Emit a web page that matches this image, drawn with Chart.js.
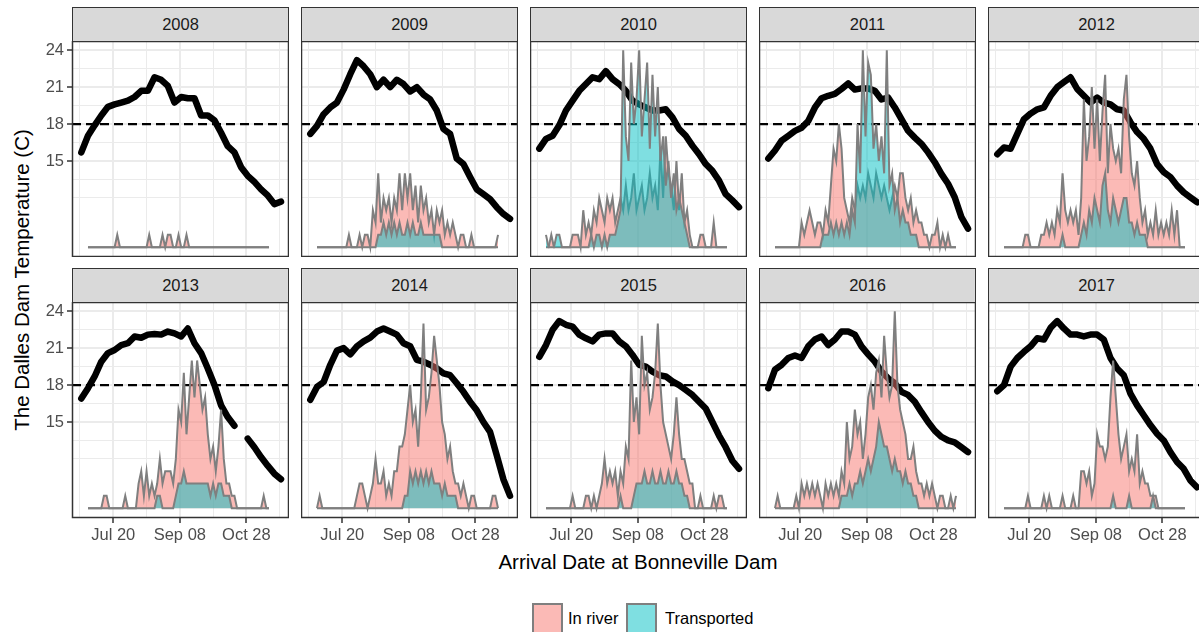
<!DOCTYPE html>
<html>
<head>
<meta charset="utf-8">
<script src="https://cdn.jsdelivr.net/npm/chart.js@4.4.1/dist/chart.umd.min.js"></script>
<style>
  body { margin: 0; background: #fff; font-family: "Liberation Sans", Arial, sans-serif; }
  #wrap { position: relative; width: 1199px; height: 632px; overflow: hidden; background: #fff; }
  canvas { position: absolute; }
  .strip { position: absolute; box-sizing: border-box; background: #d9d9d9; border: 1.5px solid #333; color: #1a1a1a; font-size: 16.5px; display: flex; align-items: center; justify-content: center; }
  .title { position: absolute; color: #000; font-size: 20.5px; white-space: nowrap; }
  .key { position: absolute; box-sizing: border-box; width: 31px; height: 31px; border: 2px solid #7f7f7f; }
  .keylabel { position: absolute; font-size: 16.5px; color: #000; line-height: 20px; }
</style>
</head>
<body>
<div id="wrap">
  <div class="title" id="ytitle" style="left:22px;top:280px;transform:translate(-50%,-50%) rotate(-90deg)">The Dalles Dam Temperature (C)</div>
  <div class="title" style="left:638px;top:562px;transform:translate(-50%,-50%)">Arrival Date at Bonneville Dam</div>
  <div class="key" style="left:532px;top:603px;background:rgba(248,118,109,0.5)"></div>
  <div class="keylabel" style="left:568px;top:608px">In river</div>
  <div class="key" style="left:626px;top:603px;background:rgba(0,191,196,0.5)"></div>
  <div class="keylabel" style="left:665px;top:608px">Transported</div>
</div>
<script>
// facets
const years = [2008, 2009, 2010, 2011, 2012, 2013, 2014, 2015, 2016, 2017];

// x axis = day of year
const xTickDays = [201, 251, 301];
const xTickLabels = ['Jul 20', 'Sep 08', 'Oct 28'];
const xMinorDays = [176, 226, 276, 326];
const yTicks = [15, 18, 21, 24];
const yMinor = [12, 13.5, 16.5, 19.5, 22.5];
const threshold = 18;

// temperature every 5 days starting day 177
const tempStart = 177, tempStep = 5;
const temp2008 = [15.7, 17.05, 17.9, 18.7, 19.4, 19.6, 19.75, 19.9, 20.2, 20.7, 20.7, 21.8, 21.6, 21.1, 19.75, 20.2, 20.1, 20.1, 18.7, 18.7, 18.3, 17.3, 16.2, 15.7, 14.5, 13.8, 13.3, 12.7, 12.2, 11.5, 11.7];
const temp2009 = [17.2, 17.85, 18.8, 19.35, 19.75, 20.8, 22.05, 23.2, 22.7, 22.05, 21.0, 21.6, 21.0, 21.6, 21.25, 20.65, 21.0, 20.4, 20.0, 19.1, 17.6, 17.2, 15.2, 14.75, 13.7, 12.7, 12.3, 11.9, 11.25, 10.7, 10.3];
const temp2010 = [16.0, 16.8, 17.05, 17.9, 19.1, 19.9, 20.7, 21.25, 21.8, 21.65, 22.3, 21.65, 21.25, 20.7, 19.9, 19.6, 19.35, 19.1, 19.1, 19.2, 18.55, 17.6, 17.05, 16.25, 15.55, 14.75, 14.2, 13.4, 12.3, 11.8, 11.25];
const temp2011 = [15.2, 15.85, 16.65, 17.05, 17.45, 17.7, 18.25, 19.35, 20.1, 20.3, 20.45, 20.85, 21.3, 20.8, 20.9, 20.9, 20.7, 20.0, 20.15, 19.35, 18.4, 17.45, 16.9, 16.4, 15.7, 14.9, 13.95, 13.15, 12.05, 10.45, 9.5];
const temp2012 = [15.55, 16.1, 16.0, 17.2, 18.4, 18.85, 19.2, 19.35, 20.3, 21.0, 21.4, 21.8, 20.85, 20.3, 19.75, 20.15, 19.75, 19.6, 19.2, 19.1, 18.15, 17.35, 16.8, 16.0, 14.75, 14.1, 13.7, 13.0, 12.45, 12.05, 11.65];
const temp2013 = [16.9, 17.75, 18.7, 19.9, 20.6, 20.85, 21.25, 21.4, 21.95, 21.85, 22.1, 22.15, 22.1, 22.35, 22.2, 21.95, 22.6, 21.4, 20.6, 19.35, 18.0, 16.35, 15.4, 14.7, null, 13.65, 12.95, 12.15, 11.45, 10.8, 10.35];
const temp2014 = [16.8, 17.85, 18.25, 19.65, 20.8, 21.0, 20.5, 21.15, 21.55, 21.85, 22.35, 22.6, 22.35, 22.1, 21.4, 21.15, 20.05, 19.9, 19.65, 19.35, 18.95, 18.8, 18.15, 17.45, 16.65, 15.95, 15.0, 14.2, 12.3, 10.35, 9.0];
const temp2015 = [20.3, 21.25, 22.5, 23.2, 22.9, 22.75, 22.1, 21.8, 21.55, 22.1, 22.2, 22.2, 21.55, 21.15, 20.45, 19.65, 19.5, 19.1, 18.8, 18.7, 18.3, 18.0, 17.6, 17.2, 16.65, 16.1, 15.0, 13.9, 12.95, 11.85, 11.2];
const temp2016 = [17.75, 19.25, 19.65, 20.2, 20.4, 20.2, 21.15, 21.7, 21.95, 21.25, 21.7, 22.35, 22.35, 22.1, 21.15, 20.5, 19.9, 19.1, 18.55, 18.15, 17.45, 17.2, 16.65, 15.8, 15.0, 14.3, 13.8, 13.5, 13.35, 12.95, 12.55];
const temp2017 = [17.5, 18.0, 19.5, 20.2, 20.7, 21.15, 21.8, 21.7, 22.65, 23.2, 22.6, 22.1, 22.1, 21.95, 22.1, 22.1, 21.7, 20.2, 19.35, 18.8, 17.3, 16.35, 15.55, 14.75, 14.05, 13.5, 12.55, 11.75, 11.2, 10.25, 9.7];

// fish counts every 2 days starting day 182, drawn on top of y = 8
const countStart = 182, countStep = 2, countBase = 8;
const inRiver2008 = [0,0,0,0,0,0,0,0,0,0, 0,1,0,0,0,0,0,0,0,0, 0,0,0,1,0,0,0,0,1,0, 1,1,0,0,1,0,0,1,0,0, 0,0,0,0,0,0,0,0,0,0, 0,0,0,0,0,0,0,0,0,0, 0,0,0,0,0,0,0,0,0];
const transported2008 = [0,0,0,0,0,0,0,0,0,0, 0,0,0,0,0,0,0,0,0,0, 0,0,0,0,0,0,0,0,0,0, 0,0,0,0,0,0,0,0,0,0, 0,0,0,0,0,0,0,0,0,0, 0,0,0,0,0,0,0,0,0,0, 0,0,0,0,0,0,0,0,0];
const inRiver2009 = [0,0,0,0,0,0,0,0,0,0, 0,0,1,0,0,0,1,0,1,1, 0,3,2,6,2,4,3,4,2,4, 3,6,3,6,4,6,3,5,2,5, 3,4,2,3,1,3,2,3,1,2, 1,2,1,0,1,1,0,0,1,0, 0,0,0,0,0,0,0,0,1];
const transported2009 = [0,0,0,0,0,0,0,0,0,0, 0,0,0,0,0,0,0,0,0,0, 0,0,0,1,1,2,1,2,1,2, 1,2,1,1,2,1,2,1,1,2, 1,1,1,1,1,1,1,0,0,0, 0,0,0,0,0,0,0,0,0,0, 0,0,0,0,0,0,0,0,0];
const inRiver2010 = [0,0,1,0,0,0,0,0,0,0, 1,1,1,0,3,1,2,1,3,2, 4,3,2,4,3,4,2,3,4,3, 5,3,4,6,3,4,5,3,4,6, 4,5,3,8,4,9,6,5,3,7, 3,6,2,3,1,0,0,0,1,1, 0,0,0,2,0,0,0,0,0];
const transported2010 = [1,0,0,0,1,1,0,0,0,0, 0,0,0,0,0,0,0,1,0,1, 1,0,1,0,1,1,1,2,3,16, 9,7,15,10,12,16,9,12,15,8, 14,9,13,7,9,5,7,4,6,3, 4,3,2,1,0,0,0,0,0,0, 0,0,0,0,0,0,0,0,0];
const inRiver2011 = [0,0,0,0,0,0,0,0,0,0, 2,1,2,3,2,1,2,2,1,3, 2,5,8,7,10,8,4,3,2,4, 3,5,4,5,4,6,5,4,6,5, 4,5,4,3,4,5,4,6,6,4, 3,4,2,3,2,2,1,1,0,1, 1,2,0,1,0,1,0,0,0];
const transported2011 = [0,0,0,0,0,0,0,0,0,0, 0,0,0,0,0,0,0,0,1,1, 1,2,1,2,1,2,1,2,1,3, 2,10,6,16,9,15,14,8,10,7, 9,6,16,5,6,3,4,2,3,2, 2,1,1,1,0,0,0,0,0,0, 0,0,0,0,0,0,0,0,0];
const inRiver2012 = [0,0,0,0,0,0,0,0,1,1, 0,0,0,0,1,1,2,1,2,1, 3,2,6,3,2,3,2,3,1,4, 12,7,9,13,8,12,7,11,14,6, 10,8,7,8,6,12,14,9,6,5, 7,4,2,3,1,2,1,3,1,2, 1,2,1,3,1,3,0,0,0];
const transported2012 = [0,0,0,0,0,0,0,0,0,0, 0,0,0,0,0,0,0,0,0,0, 0,0,1,0,0,0,0,0,0,1, 2,1,3,2,4,3,2,5,6,3, 2,4,3,2,3,4,4,2,2,1, 2,1,1,1,0,0,0,0,0,0, 0,0,0,0,0,0,0,0,0];
const inRiver2013 = [0,0,0,0,0,0,1,1,0,0, 0,0,0,0,1,0,0,0,0,2, 3,1,3,1,2,1,2,4,2,3, 3,3,2,4,8,7,11,6,9,12, 9,12,10,8,9,6,4,5,3,5, 8,4,2,2,1,1,0,0,0,0, 0,0,0,0,0,0,1,0,0];
const transported2013 = [0,0,0,0,0,0,0,0,0,0, 0,0,0,0,0,0,0,0,0,0, 0,0,0,0,0,0,1,1,0,0, 0,0,0,1,2,2,3,2,2,2, 2,2,2,2,2,2,1,2,1,2, 2,1,1,1,0,0,0,0,0,0, 0,0,0,0,0,0,0,0,0];
const inRiver2014 = [0,1,0,0,0,0,0,0,0,0, 0,0,0,0,0,1,2,2,1,0, 1,2,4,2,2,3,1,2,1,3, 3,5,5,6,8,10,7,8,5,9, 15,8,9,11,14,12,10,7,6,4, 5,3,2,2,1,2,1,0,1,1, 0,0,0,0,0,0,1,1,0];
const transported2014 = [0,0,0,0,0,0,0,0,0,0, 0,0,0,0,0,0,0,0,0,0, 0,0,0,0,0,0,0,0,0,0, 0,0,0,1,1,3,2,3,2,3, 2,3,2,3,2,2,2,1,2,1, 1,1,1,0,0,0,0,0,0,0, 0,0,0,0,0,0,0,0,0];
const inRiver2015 = [0,0,0,0,0,0,0,0,0,0, 1,0,0,0,0,1,1,0,1,0, 1,2,4,2,3,2,3,1,3,2, 5,4,12,7,9,6,14,10,11,8, 9,11,15,10,7,6,5,4,6,9, 6,4,4,3,2,2,0,0,1,0, 0,0,0,1,0,1,1,0,0];
const transported2015 = [0,0,0,0,0,0,0,0,0,0, 0,0,0,0,0,0,0,0,0,0, 0,0,0,0,0,0,0,0,1,0, 0,0,0,1,2,2,2,3,2,2, 3,2,2,3,2,2,3,2,2,3, 2,2,1,1,0,0,0,0,0,0, 0,0,0,0,0,0,0,0,0];
const inRiver2016 = [0,1,0,0,0,0,0,0,1,0, 2,1,2,1,2,1,2,1,0,2, 1,2,1,2,1,3,2,7,4,5, 8,6,7,4,6,9,10,8,11,12, 9,14,11,9,10,16,10,8,7,6, 4,4,5,3,2,2,1,2,1,2, 1,0,1,1,0,0,1,0,1];
const transported2016 = [0,0,0,0,0,0,0,0,0,0, 0,0,0,0,0,0,0,0,0,0, 0,0,0,0,0,1,1,1,2,1, 2,2,3,2,3,4,3,4,5,7, 6,5,5,4,3,4,3,3,2,3, 2,2,1,1,0,0,0,0,0,0, 0,0,0,0,0,0,0,0,0];
const inRiver2017 = [0,0,0,0,0,0,0,0,0,1, 0,0,0,0,0,1,0,1,0,0, 0,0,1,0,0,0,1,0,0,3, 3,2,3,1,2,6,5,5,4,5, 9,12,9,6,4,5,6,3,4,3, 6,2,3,2,2,1,1,1,0,0, 0,0,0,0,0,0,0,0,0];
const transported2017 = [0,0,0,0,0,0,0,0,0,0, 0,0,0,0,0,0,0,0,0,0, 0,0,0,0,0,0,0,0,0,0, 0,0,0,0,0,0,0,0,0,0, 0,1,0,0,0,0,0,1,0,0, 0,0,0,0,0,0,1,0,0,0, 0,0,0,0,0,0,0,0,0];

const panelData = {
  2008: [temp2008, inRiver2008, transported2008],
  2009: [temp2009, inRiver2009, transported2009],
  2010: [temp2010, inRiver2010, transported2010],
  2011: [temp2011, inRiver2011, transported2011],
  2012: [temp2012, inRiver2012, transported2012],
  2013: [temp2013, inRiver2013, transported2013],
  2014: [temp2014, inRiver2014, transported2014],
  2015: [temp2015, inRiver2015, transported2015],
  2016: [temp2016, inRiver2016, transported2016],
  2017: [temp2017, inRiver2017, transported2017]
};

// layout of facet grid
const colLeft = [72, 301, 530, 759, 988];
const rowTop = [41, 302];
const panelW = 217, panelH = 216;
const yAxisW = 60, xAxisH = 32;
const tickFont = { family: '"Liberation Sans", Arial, sans-serif', size: 16.5 };

const panelDecor = {
  id: 'panelDecor',
  beforeDatasetsDraw(chart) {
    const { ctx, chartArea: a, scales: { y } } = chart;
    const yy = y.getPixelForValue(threshold);
    ctx.save();
    ctx.strokeStyle = '#000';
    ctx.lineWidth = 2.2;
    ctx.setLineDash([9, 5]);
    ctx.beginPath();
    ctx.moveTo(a.left, yy);
    ctx.lineTo(a.right, yy);
    ctx.stroke();
    ctx.restore();
  },
  afterDraw(chart) {
    const { ctx, chartArea: a } = chart;
    ctx.save();
    ctx.strokeStyle = '#333';
    ctx.lineWidth = 1.5;
    ctx.strokeRect(a.left + 0.5, a.top + 0.5, a.width - 1, a.height - 1);
    ctx.restore();
  }
};

const wrap = document.getElementById('wrap');

years.forEach((yr, k) => {
  const col = k % 5, row = Math.floor(k / 5);
  const showY = col === 0, showX = row === 1;
  const [temp, inRiver, transported] = panelData[yr];

  const strip = document.createElement('div');
  strip.className = 'strip';
  strip.style.left = colLeft[col] + 'px';
  strip.style.top = (rowTop[row] - 34) + 'px';
  strip.style.width = panelW + 'px';
  strip.style.height = '35px';
  strip.textContent = yr;
  wrap.appendChild(strip);

  const cv = document.createElement('canvas');
  const w = panelW + (showY ? yAxisW : 0);
  const h = panelH + (showX ? xAxisH : 0);
  cv.width = w; cv.height = h;
  cv.style.width = w + 'px'; cv.style.height = h + 'px';
  cv.style.left = (colLeft[col] - (showY ? yAxisW : 0)) + 'px';
  cv.style.top = rowTop[row] + 'px';
  wrap.appendChild(cv);

  const countSeries = arr => arr.map((c, i) => ({ x: countStart + i * countStep, y: countBase + c }));

  new Chart(cv, {
    type: 'line',
    data: {
      datasets: [
        {
          label: 'Temperature',
          data: temp.map((v, i) => ({ x: tempStart + i * tempStep, y: v })),
          borderColor: '#000', borderWidth: 6.5, borderCapStyle: 'round', borderJoinStyle: 'round',
          pointRadius: 0, tension: 0, fill: false, spanGaps: false, order: 3
        },
        {
          label: 'In river',
          data: countSeries(inRiver),
          borderColor: '#7f7f7f', borderWidth: 2, backgroundColor: 'rgba(248,118,109,0.5)',
          fill: { value: countBase }, pointRadius: 0, tension: 0, order: 2
        },
        {
          label: 'Transported',
          data: countSeries(transported),
          borderColor: '#7f7f7f', borderWidth: 2, backgroundColor: 'rgba(0,191,196,0.5)',
          fill: { value: countBase }, pointRadius: 0, tension: 0, order: 1
        }
      ]
    },
    options: {
      responsive: false, animation: false, devicePixelRatio: 1,
      layout: { padding: 0 },
      plugins: { legend: { display: false }, tooltip: { enabled: false } },
      scales: {
        x: {
          type: 'linear', min: 170, max: 333,
          afterBuildTicks: s => { s.ticks = xMinorDays.concat(xTickDays).sort((a, b) => a - b).map(v => ({ value: v })); },
          afterFit: s => { s.height = showX ? xAxisH : 0; s.paddingLeft = 0; s.paddingRight = 0; },
          border: { display: false },
          grid: {
            color: '#ebebeb',
            lineWidth: c => xTickDays.includes(c.tick.value) ? 2 : 1,
            drawTicks: showX, tickLength: 5, tickWidth: 1.5,
            tickColor: c => xTickDays.includes(c.tick.value) ? '#333' : 'rgba(0,0,0,0)'
          },
          ticks: {
            display: showX, autoSkip: false, maxRotation: 0, padding: 3, color: '#4d4d4d', font: tickFont,
            callback: v => { const i = xTickDays.indexOf(v); return i >= 0 ? xTickLabels[i] : ''; }
          }
        },
        y: {
          min: 7.2, max: 24.75,
          afterBuildTicks: s => { s.ticks = yMinor.concat(yTicks).sort((a, b) => a - b).map(v => ({ value: v })); },
          afterFit: s => { s.width = showY ? yAxisW : 0; s.paddingTop = 0; s.paddingBottom = 0; },
          border: { display: false },
          grid: {
            color: '#ebebeb',
            lineWidth: c => yTicks.includes(c.tick.value) ? 2 : 1,
            drawTicks: showY, tickLength: 5, tickWidth: 1.5,
            tickColor: c => yTicks.includes(c.tick.value) ? '#333' : 'rgba(0,0,0,0)'
          },
          ticks: {
            display: showY, autoSkip: false, padding: 3, color: '#4d4d4d', font: tickFont,
            callback: v => yTicks.includes(v) ? String(v) : ''
          }
        }
      }
    },
    plugins: [panelDecor]
  });
});
</script>
</body>
</html>
